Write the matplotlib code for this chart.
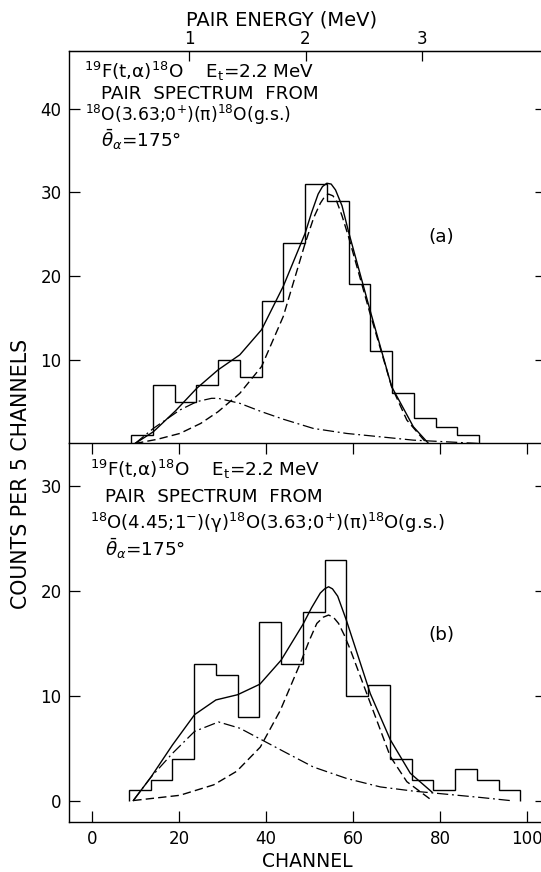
import numpy as np
import matplotlib
matplotlib.use("Agg")
import matplotlib.pyplot as plt

# ---- histogram data (counts per 5 channels) ----
edges_a = np.arange(9.0, 94.0, 5.0)          # 9 ... 89
counts_a = [1, 7, 5, 7, 10, 8, 17, 24, 31, 29, 19, 11, 6, 3, 2, 1]

edges_b = np.arange(8.5, 99.0, 5.0)          # 8.5 ... 98.5
counts_b = [1, 2, 4, 13, 12, 8, 17, 13, 18, 23, 10, 11, 4, 2, 1, 3, 2, 1]

# ---- fitted curves (channel, counts) ----
# panel (a)
tot_a_x = [9.9, 14.1, 19.2, 24.1, 29.0, 34.0, 39.0, 44.0, 49.0, 50.5, 52.0, 53.0, 54.0, 55.0, 56.0,
           57.5, 59.0, 63.9, 68.9, 73.9, 77.4]
tot_a_y = [0.0, 1.4, 3.9, 6.6, 8.8, 10.6, 13.6, 18.8, 25.1, 27.6, 29.8, 30.7, 31.1, 31.0, 30.3,
           28.4, 25.3, 16.0, 6.8, 2.0, 0.0]

main_a_x = [9.9, 15.0, 20.2, 25.0, 29.0, 34.0, 39.0, 44.0, 49.0, 51.0, 52.5, 53.5, 54.4, 55.4, 56.3,
            57.5, 59.0, 63.9, 68.9, 72.4, 77.0]
main_a_y = [0.0, 0.5, 1.2, 2.4, 3.8, 6.0, 9.2, 15.2, 23.9, 27.0, 28.7, 29.5, 29.8, 29.6, 28.9,
            27.2, 24.7, 15.6, 6.8, 2.8, 0.0]

low_a_x = [9.9, 14.1, 20.2, 24.1, 27.5, 29.0, 34.0, 39.0, 44.0, 50.9, 58.6, 66.3, 73.9, 81.6, 89.0]
low_a_y = [0.0, 1.8, 4.0, 5.0, 5.4, 5.4, 4.8, 3.8, 2.9, 1.8, 1.2, 0.8, 0.4, 0.2, 0.0]

# panel (b)
tot_b_x = [9.5, 13.5, 18.5, 23.6, 28.5, 33.5, 38.6, 43.5, 48.5, 50.5, 52.5, 53.5, 54.4, 55.3, 56.5,
           58.5, 64.0, 68.6, 73.2, 78.2]
tot_b_y = [0.0, 2.2, 5.3, 8.2, 9.6, 10.1, 11.1, 13.4, 16.8, 18.4, 19.8, 20.2, 20.4, 20.2, 19.5,
           17.2, 10.2, 5.8, 2.6, 0.8]

main_b_x = [9.5, 20.2, 28.0, 33.3, 38.7, 43.3, 47.9, 50.0, 51.7, 53.2, 54.4, 55.5, 56.7, 58.0, 59.4,
            64.0, 68.6, 72.4, 78.2]
main_b_y = [0.0, 0.5, 1.5, 2.8, 5.1, 8.6, 13.1, 15.3, 16.9, 17.5, 17.7, 17.5, 16.9, 15.8, 14.4,
            9.3, 4.2, 1.8, 0.0]

low_b_x = [9.5, 13.5, 18.5, 23.6, 29.1, 34.0, 39.0, 44.0, 50.9, 58.6, 66.3, 73.9, 81.6, 89.2, 96.1]
low_b_y = [0.0, 2.2, 4.5, 6.6, 7.5, 6.9, 5.8, 4.7, 3.2, 2.1, 1.3, 0.9, 0.6, 0.3, 0.0]

# energy calibration of the top axis (channel = gain*E + offset)
gain, offset = 26.7, -4.3
energy_ticks = [1, 2, 3]
chan_ticks = [0, 20, 40, 60, 80, 100]

plt.rcParams['font.family'] = ['DejaVu Sans']
plt.rcParams['mathtext.fontset'] = 'dejavusans'

W, H = 541, 872
fig = plt.figure(figsize=(W / 100, H / 100), dpi=100)
L, R = 68.5 / W, 546 / W
ax1 = fig.add_axes([L, 1 - 443.5 / H, R - L, (443.5 - 51) / H])
ax2 = fig.add_axes([L, 1 - 821.5 / H, R - L, (821.5 - 443.5) / H])

lw = 1.0
dash = (0, (6, 3))
dashdot = (0, (9, 3, 1.5, 3))
fs = 13.2


def ftext(x, y, s, size=fs):
    # place text by its baseline, in figure pixels from top-left
    fig.text(x / W, 1 - y / H, s, fontsize=size, va='baseline', ha='left')


for ax in (ax1, ax2):
    ax.set_xlim(-5.4, 104.4)
    for s in ax.spines.values():
        s.set_linewidth(1.0)
    ax.tick_params(axis='y', which='both', direction='in', length=8, width=0.9,
                   labelsize=12, pad=5, left=True, right=True)

# ---- panel (a) ----
ax1.stairs(counts_a, edges_a, color='black', lw=lw)
ax1.plot(tot_a_x, tot_a_y, color='black', lw=lw)
ax1.plot(main_a_x, main_a_y, color='black', lw=lw, ls=dash)
ax1.plot(low_a_x, low_a_y, color='black', lw=0.9, ls=dashdot)
ax1.set_ylim(0, 46.9)
ax1.set_yticks([10, 20, 30, 40])
ax1.set_xticks([])
ax1.spines['bottom'].set_visible(False)

sec = ax1.secondary_xaxis('top', functions=(lambda c: (c - offset) / gain,
                                            lambda e: gain * e + offset))
sec.set_xticks(energy_ticks)
sec.tick_params(direction='in', length=7, width=0.9, labelsize=12, pad=2)
fig.text(282 / W, 1 - 20 / H, 'PAIR ENERGY (MeV)', fontsize=14, ha='center', va='center')

ftext(84, 78, r'$^{19}$F(t,α)$^{18}$O    E$_{\rm t}$=2.2 MeV')
ftext(101, 99, 'PAIR  SPECTRUM  FROM')
ftext(85, 121, r'$^{18}$O(3.63;0$^{+}$)(π)$^{18}$O(g.s.)', size=12.3)
ftext(101, 147, r'$\bar{\theta}_{\alpha}$=175°')
ax1.text(0.753, 0.525, '(a)', transform=ax1.transAxes, fontsize=fs, va='center')

# ---- panel (b) ----
ax2.stairs(counts_b, edges_b, color='black', lw=lw)
ax2.plot(tot_b_x, tot_b_y, color='black', lw=lw)
ax2.plot(main_b_x, main_b_y, color='black', lw=lw, ls=dash)
ax2.plot(low_b_x, low_b_y, color='black', lw=0.9, ls=dashdot)
ax2.set_ylim(-2.0, 34.07)
ax2.set_yticks([0, 10, 20, 30])
ax2.set_xticks(chan_ticks)
ax2.tick_params(axis='x', direction='in', length=8, width=0.9, labelsize=12, pad=6,
                top=True, bottom=True)
ax2.set_xlabel('CHANNEL', fontsize=13.5, labelpad=3)

ftext(90, 476, r'$^{19}$F(t,α)$^{18}$O    E$_{\rm t}$=2.2 MeV')
ftext(105, 502, 'PAIR  SPECTRUM  FROM')
ftext(90, 529, r'$^{18}$O(4.45;1$^{-}$)(γ)$^{18}$O(3.63;0$^{+}$)(π)$^{18}$O(g.s.)', size=13)
ftext(105, 556, r'$\bar{\theta}_{\alpha}$=175°')
ax2.text(0.753, 0.493, '(b)', transform=ax2.transAxes, fontsize=fs, va='center')

fig.text(21 / W, 1 - 474 / H, 'COUNTS PER 5 CHANNELS', rotation=90,
         fontsize=14.8, ha='center', va='center')

fig.savefig('out.png', dpi=100)
